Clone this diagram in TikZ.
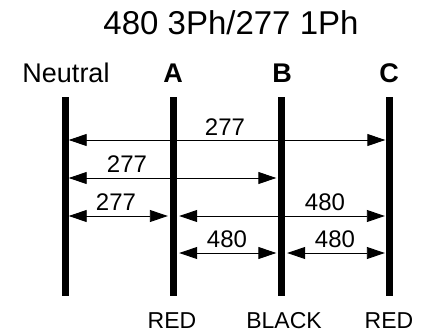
\documentclass[tikz,border=0pt]{standalone}
\usepackage{fontspec}
\setmainfont{Liberation Sans}
\usetikzlibrary{arrows.meta}
\begin{document}
\begin{tikzpicture}[x=1pt,y=-1pt,
  bar/.style={fill=black, draw=none, minimum width=7pt, minimum height=199pt, inner sep=0pt},
  tip/.tip={Triangle[length=18pt,width=12pt]},
  dim/.style={line width=0.9pt, tip-tip},
  txt/.style={inner sep=0pt, anchor=base},
  title/.style={txt, font=\fontsize{33}{33}\selectfont},
  head/.style={txt, font=\fontsize{27}{27}\selectfont},
  phase/.style={txt, font=\fontsize{27}{27}\selectfont\bfseries},
  lbl/.style={txt, font=\fontsize{24}{24}\selectfont},
  colr/.style={txt, font=\fontsize{23}{23}\selectfont}]
\useasboundingbox (0,0) rectangle (430,335);
% bars
\node[bar] (N) at (65,196.5) {};
\node[bar] (A) at (173,196.5) {};
\node[bar] (B) at (281,196.5) {};
\node[bar] (C) at (389,196.5) {};
% title and headings
\node[title] (t) at (231,34) {480 3Ph/277 1Ph};
\node[head] (hN) at (66,82) {Neutral};
\node[phase] (hA) at (173,82) {A};
\node[phase] (hB) at (282,82) {B};
\node[phase] (hC) at (389,82) {C};
% colours
\node[colr] (cA) at (172,328) {RED};
\node[colr] (cB) at (284,328) {BLACK};
\node[colr] (cC) at (389,328) {RED};
% row 1
\draw[dim] (N.east |- 0,140) -- (C.west |- 0,140);
\node[lbl] (l1) at (225,135) {277};
% row 2
\draw[dim] (N.east |- 0,178) -- ([xshift=-1pt]B.west |- 0,178);
\node[lbl] (l2) at (127,172) {277};
% row 3
\draw[dim] (N.east |- 0,216) -- ([xshift=-1.5pt]A.west |- 0,216);
\node[lbl] (l3) at (116,210) {277};
\draw[dim] ([xshift=2.5pt]A.east |- 0,216) -- ([xshift=-0.5pt]C.west |- 0,216);
\node[lbl] (l4) at (325,210) {480};
% row 4
\draw[dim] ([xshift=2.5pt]A.east |- 0,253) -- ([xshift=-1pt]B.west |- 0,253);
\node[lbl] (l5) at (227,247) {480};
\draw[dim] ([xshift=2.5pt]B.east |- 0,253) -- ([xshift=-0.5pt]C.west |- 0,253);
\node[lbl] (l6) at (335,247) {480};
\end{tikzpicture}
\end{document}
